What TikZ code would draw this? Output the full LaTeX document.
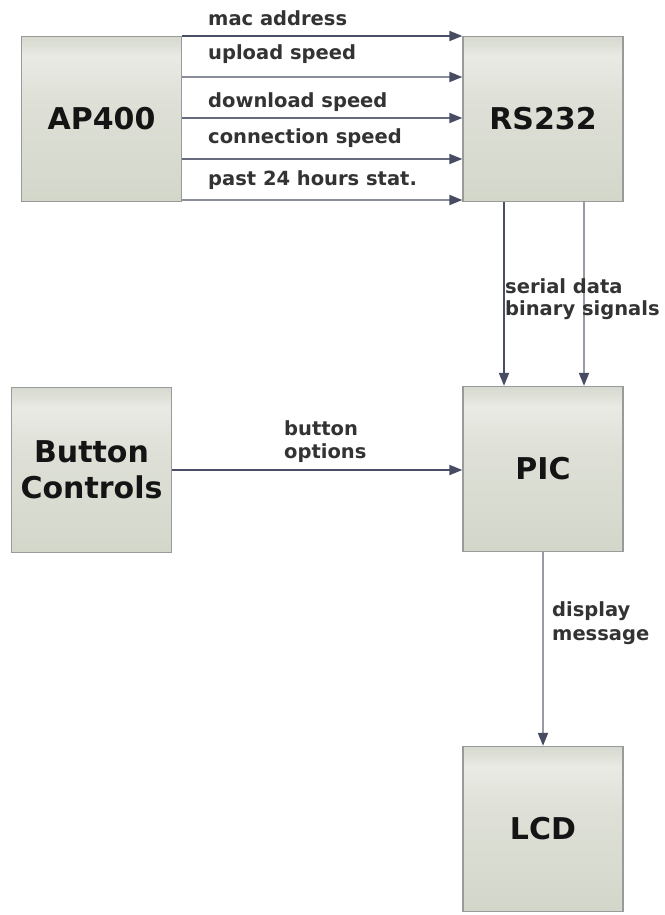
\documentclass[tikz,border=0pt]{standalone}
\usepackage{fontspec}
\setmainfont{DejaVu Sans}
\usetikzlibrary{arrows.meta}

% palette
\definecolor{boxline}{HTML}{9A9A9A}
\definecolor{shBot}{HTML}{D3D7CA}
\definecolor{shMid}{HTML}{DEE0D7}
\definecolor{shLight}{HTML}{E9EAE4}
\definecolor{shTop}{HTML}{D6D9CF}
\definecolor{tipcol}{HTML}{474C63}
\definecolor{lineA}{HTML}{4A4F65}
\definecolor{lineB}{HTML}{8A8E9B}
\definecolor{lineC}{HTML}{676B7E}
\definecolor{lineD}{HTML}{9A9AA4}
\definecolor{labeltext}{HTML}{333333}

% soft grey-green block fill, lightest just below the top edge
\pgfdeclareverticalshading{boxshade}{100bp}{%
  color(0bp)=(shBot); color(25bp)=(shBot); color(55bp)=(shMid);
  color(69bp)=(shLight); color(75bp)=(shTop); color(100bp)=(shTop)}

\tikzset{
  blockbox/.style={draw=boxline, line width=1.3pt, shading=boxshade,
    minimum width=160pt, minimum height=165pt, inner sep=0pt,
    font=\bfseries\fontsize{30}{36}\selectfont, text=black!92, align=center},
  lbl/.style={font=\bfseries\fontsize{19.5}{23}\selectfont, text=labeltext,
    inner sep=0pt, anchor=base west},
  flow/.style={line width=1.8pt, -{Triangle[length=13pt,width=10pt,color=tipcol]}},
}

\begin{document}
\begin{tikzpicture}[x=1pt,y=1pt]
  \useasboundingbox (0,0) rectangle (664,-915);
  \fill[white] (0,0) rectangle (664,-915);

  % blocks
  \node[blockbox] (AP)  at (101.5,-119) {AP400};
  \node[blockbox] (RS)  at (543,-119)   {RS232};
  \node[blockbox] (BTN) at (91.5,-470)  {Button\\Controls};
  \node[blockbox] (PIC) at (543,-469)   {PIC};
  \node[blockbox] (LCD) at (543,-829)   {LCD};

  % signal levels between AP400 and RS232
  \coordinate (r1) at (0,-36);
  \coordinate (r2) at (0,-77);
  \coordinate (r3) at (0,-118);
  \coordinate (r4) at (0,-159);
  \coordinate (r5) at (0,-200);
  \coordinate (s1) at (504,0);
  \coordinate (s2) at (584,0);

  \draw[flow, draw=lineA] (AP.east |- r1) -- (RS.west |- r1);
  \draw[flow, draw=lineB] (AP.east |- r2) -- (RS.west |- r2);
  \draw[flow, draw=lineC] (AP.east |- r3) -- (RS.west |- r3);
  \draw[flow, draw=lineC] (AP.east |- r4) -- (RS.west |- r4);
  \draw[flow, draw=lineB] (AP.east |- r5) -- (RS.west |- r5);

  % RS232 to PIC
  \draw[flow, draw=lineA] (RS.south -| s1) -- (PIC.north -| s1);
  \draw[flow, draw=lineD] (RS.south -| s2) -- (PIC.north -| s2);

  % button controls to PIC
  \draw[flow, draw=lineA] (BTN.east) -- (PIC.west |- BTN.east);

  % PIC to LCD
  \draw[flow, draw=lineD] (PIC.south) -- (LCD.north);

  % labels
  \node[lbl] (l1) at (208,-26)  {mac address};
  \node[lbl] (l2) at (208,-60)  {upload speed};
  \node[lbl] (l3) at (208,-108) {download speed};
  \node[lbl] (l4) at (208,-143) {connection speed};
  \node[lbl] (l5) at (208,-185) {past 24 hours stat.};
  \node[lbl] (l6) at (505,-293) {serial data};
  \node[lbl] (l7) at (505,-315) {binary signals};
  \node[lbl] (l8) at (284,-435) {button};
  \node[lbl] (l9) at (284,-458) {options};
  \node[lbl] (l10) at (552,-616) {display};
  \node[lbl] (l11) at (552,-640) {message};
\end{tikzpicture}
\end{document}
